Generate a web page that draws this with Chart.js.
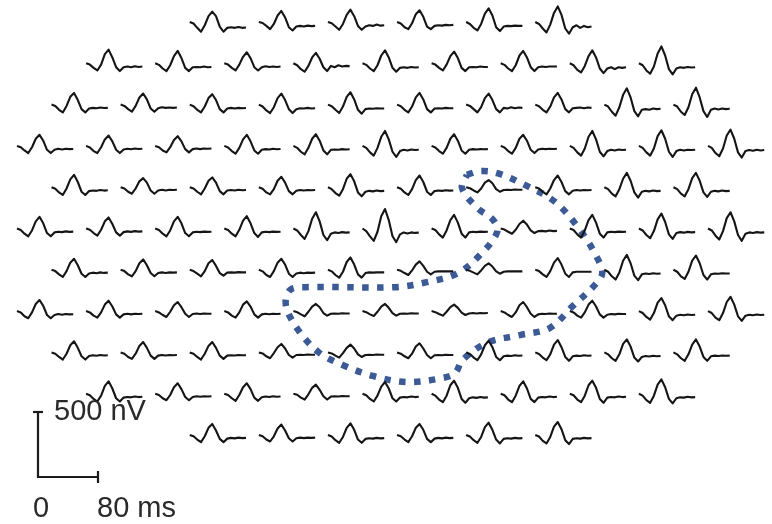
<!DOCTYPE html>
<html>
<head>
<meta charset="utf-8">
<script src="https://cdn.jsdelivr.net/npm/chart.js@4/dist/chart.umd.min.js"></script>
<style>
html,body{margin:0;padding:0;background:#fff;}
#wrap{position:relative;width:772px;height:524px;}
</style>
</head>
<body>
<div id="wrap"><canvas id="c"></canvas></div>
<script>
// ---- data ----
// sample times of each trace, ms
const times = [0,5,10,15,20,25,30,35,40,45,50,55,60,65,70,75];
// response of each hexagon, nV relative to the trace start, one row per line
const row1 = [
 [0,-12,-45,-75,-25,45,80,45,-35,-75,-45,-40,-45,-38,-45,-42],
 [0,-8,-30,-55,-15,50,85,35,-40,-65,-35,-30,-35,-28,-32,-30],
 [0,-10,-35,-60,-15,55,95,45,-30,-60,-35,-25,-30,-20,-28,-25],
 [0,-12,-40,-55,-10,60,90,40,-35,-55,-30,-25,-28,-22,-25,-22],
 [0,-15,-45,-65,-15,65,105,50,-40,-70,-35,-30,-32,-28,-30,-30],
 [0,-15,-50,-80,-20,70,120,55,-50,-90,-40,-25,-45,-30,-40,-35]
];
const row2 = [
 [0,-10,-35,-55,-10,70,105,45,-30,-60,-30,-25,-30,-22,-28,-25],
 [0,-12,-40,-60,-15,55,95,40,-35,-60,-30,-28,-30,-25,-30,-28],
 [0,-10,-35,-55,-10,50,85,40,-30,-55,-30,-22,-28,-25,-28,-25],
 [0,-15,-45,-65,-20,45,80,35,-30,-60,-20,-30,-15,-25,-20,-22],
 [0,-12,-40,-60,-15,60,100,45,-35,-65,-35,-30,-35,-28,-32,-30],
 [0,-10,-35,-55,-10,55,90,40,-35,-60,-30,-28,-30,-25,-28,-28],
 [0,-12,-40,-60,-15,60,95,45,-30,-60,-30,-25,-28,-25,-25,-25],
 [0,-15,-50,-70,-20,55,100,45,-40,-75,-40,-30,-45,-30,-35,-30],
 [0,-15,-55,-80,-25,75,130,60,-45,-85,-40,-30,-35,-28,-32,-30]
];
const row3 = [
 [0,-10,-40,-60,-10,60,90,35,-35,-60,-30,-25,-28,-22,-26,-25],
 [0,-10,-35,-55,-10,55,85,40,-30,-55,-28,-20,-25,-22,-25,-22],
 [0,-12,-40,-60,-15,50,80,35,-35,-60,-30,-25,-30,-25,-28,-26],
 [0,-15,-45,-65,-20,50,85,35,-35,-65,-35,-28,-30,-25,-30,-28],
 [0,-12,-40,-65,-15,60,95,40,-40,-70,-35,-30,-32,-28,-30,-30],
 [0,-12,-40,-60,-15,55,90,40,-35,-60,-30,-28,-30,-25,-28,-28],
 [0,-10,-35,-60,-20,50,85,35,-35,-60,-25,-30,-20,-28,-22,-25],
 [0,-12,-40,-60,-15,55,90,40,-35,-60,-28,-25,-22,-28,-22,-25],
 [0,-15,-55,-85,-20,75,125,55,-50,-90,-40,-35,-40,-30,-35,-32],
 [0,-15,-55,-80,-20,80,130,55,-50,-95,-40,-30,-38,-30,-35,-32]
];
const row4 = [
 [0,-10,-35,-55,-10,55,85,40,-30,-55,-30,-22,-28,-22,-25,-24],
 [0,-12,-40,-55,-10,50,80,35,-30,-55,-28,-22,-26,-20,-24,-22],
 [0,-10,-35,-50,-10,45,75,35,-25,-50,-25,-20,-25,-20,-22,-20],
 [0,-12,-40,-60,-15,50,85,35,-35,-60,-30,-25,-28,-22,-26,-24],
 [0,-15,-45,-65,-15,55,90,40,-35,-65,-30,-28,-30,-25,-28,-26],
 [0,-15,-50,-75,-15,70,115,50,-45,-85,-40,-30,-35,-28,-32,-30],
 [0,-12,-40,-60,-15,55,90,40,-35,-60,-30,-25,-28,-25,-26,-25],
 [0,-12,-40,-60,-15,55,85,40,-30,-55,-28,-22,-25,-22,-24,-22],
 [0,-15,-50,-75,-20,70,115,50,-45,-80,-40,-30,-35,-28,-32,-30],
 [0,-15,-50,-75,-20,75,120,55,-45,-85,-40,-30,-35,-30,-32,-30],
 [0,-15,-55,-80,-20,80,125,55,-50,-90,-40,-32,-38,-30,-35,-32]
];
const row5 = [
 [0,-12,-40,-60,-10,60,95,40,-35,-60,-30,-25,-28,-22,-26,-24],
 [0,-10,-35,-50,-10,45,70,35,-25,-50,-25,-20,-25,-20,-22,-20],
 [0,-10,-35,-55,-10,50,75,35,-30,-55,-25,-22,-25,-20,-24,-22],
 [0,-12,-40,-55,-15,50,80,35,-30,-55,-28,-22,-26,-22,-24,-22],
 [0,-15,-45,-65,-15,65,100,45,-40,-70,-35,-28,-32,-26,-30,-28],
 [0,-12,-40,-60,-15,55,90,40,-35,-60,-30,-25,-28,-24,-26,-25],
 [0,-8,-25,-40,-10,35,55,30,-15,-35,-22,-20,-22,-18,-20,-20],
 [0,-10,-35,-55,-10,55,90,40,-30,-55,-28,-22,-26,-22,-24,-22],
 [0,-15,-50,-70,-15,65,110,50,-40,-80,-35,-28,-32,-26,-30,-28],
 [0,-15,-50,-70,-15,70,110,50,-40,-75,-35,-28,-32,-26,-30,-28]
];
const row6 = [
 [0,-12,-40,-60,-15,55,90,40,-35,-60,-30,-25,-28,-22,-26,-24],
 [0,-10,-35,-55,-10,55,85,35,-30,-55,-28,-22,-26,-20,-24,-22],
 [0,-12,-40,-60,-15,55,90,40,-35,-60,-30,-25,-28,-24,-26,-25],
 [0,-12,-40,-60,-10,60,95,40,-35,-65,-30,-25,-28,-24,-26,-25],
 [0,-15,-50,-80,-20,75,125,55,-50,-90,-40,-30,-35,-28,-32,-30],
 [0,-20,-60,-95,-25,95,150,65,-60,-105,-45,-30,-38,-30,-34,-32],
 [0,-12,-45,-70,-15,65,105,45,-40,-70,-30,-25,-28,-24,-26,-25],
 [0,-8,-25,-40,-10,35,60,30,-15,-35,-20,-18,-22,-16,-20,-18],
 [0,-12,-45,-70,-15,65,105,45,-40,-70,-30,-25,-28,-24,-26,-25],
 [0,-15,-50,-75,-20,70,115,50,-45,-80,-35,-28,-32,-26,-30,-28],
 [0,-15,-55,-85,-20,80,125,55,-50,-95,-40,-30,-35,-28,-32,-30]
];
const row7 = [
 [0,-10,-35,-55,-10,55,85,35,-30,-55,-28,-22,-26,-20,-24,-22],
 [0,-10,-35,-50,-10,50,80,35,-25,-50,-25,-20,-24,-20,-22,-20],
 [0,-10,-30,-50,-10,50,75,30,-25,-45,-22,-20,-22,-18,-20,-20],
 [0,-12,-40,-55,-10,55,85,40,-30,-55,-28,-22,-26,-22,-24,-22],
 [0,-12,-40,-60,-15,60,95,40,-35,-60,-25,-20,-22,-20,-20,-20],
 [0,-8,-25,-40,-5,40,65,30,-15,-35,-15,-12,-12,-12,-12,-12],
 [0,-8,-22,-35,-5,30,50,25,-12,-30,-15,-12,-12,-12,-12,-12],
 [0,-10,-35,-55,-10,55,90,40,-30,-55,-20,-15,-15,-15,-15,-15],
 [0,-15,-50,-75,-20,70,115,50,-45,-80,-35,-28,-32,-26,-30,-28],
 [0,-15,-50,-70,-15,70,110,50,-40,-75,-35,-28,-30,-26,-28,-28]
];
const row8 = [
 [0,-10,-40,-55,-10,55,85,40,-30,-55,-30,-22,-28,-22,-25,-24],
 [0,-10,-35,-50,-10,50,80,35,-25,-50,-25,-20,-25,-20,-22,-20],
 [0,-10,-30,-45,-5,45,70,30,-20,-45,-22,-18,-22,-18,-20,-20],
 [0,-10,-35,-50,-10,50,75,35,-25,-50,-25,-20,-24,-20,-22,-20],
 [0,-8,-25,-40,-5,35,55,30,-15,-35,-20,-18,-20,-16,-18,-18],
 [0,-8,-25,-38,-5,35,55,25,-15,-35,-20,-18,-20,-16,-18,-18],
 [0,-8,-22,-35,-5,30,50,25,-12,-30,-18,-15,-18,-15,-16,-15],
 [0,-10,-30,-45,-10,45,70,30,-20,-45,-25,-20,-22,-18,-20,-20],
 [0,-10,-35,-50,-10,50,80,35,-25,-50,-28,-22,-25,-20,-22,-22],
 [0,-15,-45,-65,-15,65,100,45,-40,-70,-35,-28,-32,-26,-30,-28],
 [0,-15,-50,-70,-15,70,110,50,-40,-75,-35,-28,-32,-26,-30,-28]
];
const row9 = [
 [0,-10,-35,-55,-10,55,85,35,-30,-55,-28,-22,-26,-20,-24,-22],
 [0,-10,-35,-50,-10,50,80,35,-25,-50,-25,-20,-24,-20,-22,-20],
 [0,-10,-35,-55,-10,50,80,35,-25,-50,-25,-22,-24,-20,-22,-22],
 [0,-8,-30,-45,-5,40,65,30,-20,-40,-20,-18,-20,-16,-18,-18],
 [0,-8,-25,-40,-5,35,60,30,-15,-35,-20,-18,-20,-16,-18,-18],
 [0,-10,-30,-45,-10,45,70,30,-20,-45,-22,-20,-22,-18,-20,-20],
 [0,-12,-40,-60,-15,55,90,40,-35,-60,-30,-25,-28,-22,-26,-24],
 [0,-12,-40,-60,-15,60,95,40,-35,-65,-30,-25,-28,-22,-26,-24],
 [0,-15,-45,-65,-15,65,100,45,-40,-70,-35,-28,-32,-26,-30,-28],
 [0,-15,-45,-65,-15,60,100,45,-35,-65,-30,-25,-28,-24,-26,-25]
];
const row10 = [
 [0,-12,-40,-60,-15,60,95,40,-35,-60,-30,-25,-28,-22,-26,-24],
 [0,-10,-35,-50,-10,50,80,35,-25,-50,-25,-20,-24,-20,-22,-20],
 [0,-10,-35,-55,-10,50,80,35,-30,-55,-28,-22,-26,-20,-24,-22],
 [0,-8,-30,-45,-5,45,70,30,-20,-45,-22,-20,-22,-18,-20,-20],
 [0,-12,-40,-60,-15,55,90,40,-35,-60,-30,-25,-28,-22,-26,-24],
 [0,-15,-45,-65,-15,65,100,45,-40,-70,-35,-28,-32,-26,-30,-28],
 [0,-12,-45,-65,-15,60,95,40,-40,-65,-30,-25,-28,-22,-26,-24],
 [0,-12,-45,-65,-15,65,100,45,-40,-70,-30,-25,-28,-22,-26,-24],
 [0,-15,-50,-70,-15,70,110,50,-40,-75,-35,-28,-30,-24,-28,-26]
];
const row11 = [
 [0,-10,-35,-55,-10,55,85,35,-30,-55,-28,-22,-26,-20,-24,-22],
 [0,-10,-35,-50,-10,50,80,35,-25,-50,-25,-20,-24,-20,-22,-20],
 [0,-12,-40,-60,-15,55,90,40,-35,-60,-30,-25,-28,-22,-26,-24],
 [0,-10,-35,-55,-10,55,85,40,-30,-55,-28,-22,-26,-20,-24,-22],
 [0,-12,-40,-60,-15,60,95,40,-35,-65,-30,-25,-28,-22,-26,-24],
 [0,-12,-45,-65,-15,65,100,45,-40,-70,-30,-25,-28,-22,-26,-24]
];
const rows = [row1,row2,row3,row4,row5,row6,row7,row8,row9,row10,row11];
// outlined region, in grid units (column index, row index)
const regionCol = [6.51,6.70,6.95,7.38,7.79,8.15,8.39,8.47,8.36,8.03,7.71,7.28,6.80,6.45,6.34,6.16,5.64,5.15,4.72,4.36,4.05,3.89,3.95,4.17,5.47,5.93,6.38,6.73,6.95,6.89,6.66,6.44,6.51];
const regionRow = [3.70,3.61,3.66,3.97,4.36,5.04,5.69,6.08,6.37,6.90,7.41,7.58,7.77,8.18,8.50,8.62,8.72,8.57,8.31,7.99,7.41,6.85,6.49,6.42,6.42,6.30,6.08,5.59,5.08,4.79,4.50,4.02,3.70];
// calibration bar
const barNv = 500;
const barMs = 80;
const barLabels = ["500 nV", "0", "80 ms"];

// ---- layout ----
const W = 772, H = 524;
const MS_PER_PX = 80 / 60;
const NV_PER_PX = 500 / 65;
const COL0 = 17, COL_STEP = 69.1, ROW0 = 22, ROW_STEP = 41.3;
const toX = px => px * MS_PER_PX;
const toY = py => (H - py) * NV_PER_PX;

const datasets = [];
rows.forEach((row, r) => {
  const off = (11 - row.length) / 2;
  const y0 = toY(ROW0 + r * ROW_STEP);
  row.forEach((vals, c) => {
    const x0 = toX(COL0 + (off + c) * COL_STEP);
    datasets.push({
      data: times.map((t, i) => ({x: x0 + t, y: y0 + vals[i]})),
      borderColor: '#151515', borderWidth: 2.1, pointRadius: 0, tension: 0, showLine: true,
      borderJoinStyle: 'round'
    });
  });
});

datasets.push({
  data: regionCol.map((g, i) => ({x: toX(COL0 + g * COL_STEP), y: toY(ROW0 + regionRow[i] * ROW_STEP)})),
  borderColor: '#3b5a96', borderWidth: 6.5, borderDash: [6.5, 8.5], borderCapStyle: 'butt',
  pointRadius: 0, tension: 0.35, showLine: true
});

// calibration bar
const bx = toX(38), by = toY(477);
const capW = 5 * MS_PER_PX, tickH = 6 * NV_PER_PX;
const barStyle = {borderColor: '#1c1c1c', borderWidth: 2.2, pointRadius: 0, tension: 0, showLine: true};
datasets.push(Object.assign({data: [{x: bx, y: by + barNv}, {x: bx, y: by}, {x: bx + barMs, y: by}]}, barStyle));
datasets.push(Object.assign({data: [{x: bx - capW, y: by + barNv}, {x: bx + capW, y: by + barNv}]}, barStyle));
datasets.push(Object.assign({data: [{x: bx + barMs, y: by - tickH}, {x: bx + barMs, y: by + tickH}]}, barStyle));

const labelPlugin = {
  id: 'barLabels',
  afterDatasetsDraw(chart) {
    const {ctx, scales: {x, y}} = chart;
    ctx.save();
    ctx.fillStyle = '#2a2a2a';
    ctx.font = '29px "Liberation Sans", Arial, sans-serif';
    ctx.textBaseline = 'alphabetic';
    ctx.textAlign = 'left';
    ctx.fillText(barLabels[0], x.getPixelForValue(bx) + 16, y.getPixelForValue(by + barNv) + 8);
    ctx.textAlign = 'center';
    ctx.fillText(barLabels[1], x.getPixelForValue(bx) + 3, y.getPixelForValue(by) + 40);
    ctx.textAlign = 'left';
    ctx.fillText(barLabels[2], x.getPixelForValue(bx + barMs) - 1, y.getPixelForValue(by) + 40);
    ctx.restore();
  }
};

new Chart(document.getElementById('c'), {
  type: 'scatter',
  data: {datasets},
  options: {
    responsive: true, maintainAspectRatio: false, animation: false,
    layout: {padding: 0},
    plugins: {legend: {display: false}, tooltip: {enabled: false}},
    scales: {
      x: {type: 'linear', display: false, min: 0, max: W * MS_PER_PX},
      y: {type: 'linear', display: false, min: 0, max: H * NV_PER_PX}
    }
  },
  plugins: [labelPlugin]
});
</script>
</body>
</html>
